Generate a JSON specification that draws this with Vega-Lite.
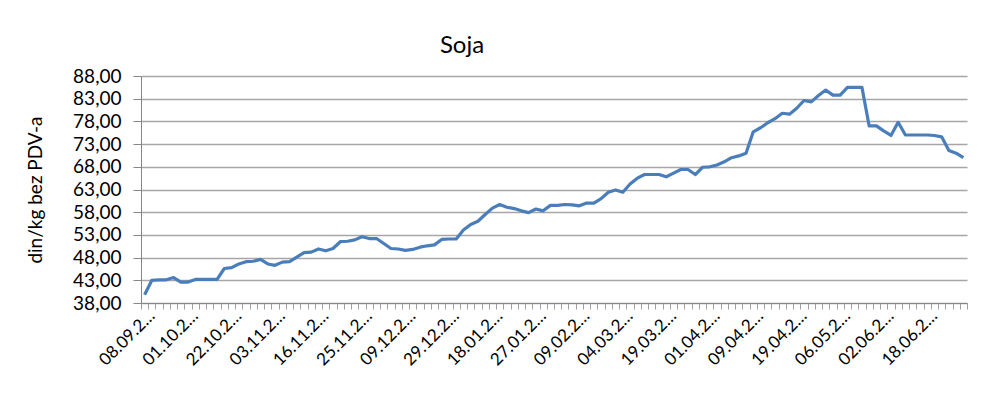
{
  "$schema": "https://vega.github.io/schema/vega-lite/v6.json",
  "autosize": {"type": "none"},
  "padding": {"left": 141, "top": 76, "right": 33, "bottom": 96},
  "width": 826,
  "height": 227,
  "background": "white",
  "title": {"text": "Soja", "font": "Lato", "fontSize": 24, "fontWeight": "normal", "color": "#000000", "anchor": "middle", "dx": -92, "offset": 9},
  "data": {"values": [
    {"date": "08.09.2020", "price": 39.8},
    {"date": "11.09.2020", "price": 43.0},
    {"date": "15.09.2020", "price": 43.1},
    {"date": "18.09.2020", "price": 43.1},
    {"date": "22.09.2020", "price": 43.6},
    {"date": "25.09.2020", "price": 42.6},
    {"date": "01.10.2020", "price": 42.6},
    {"date": "05.10.2020", "price": 43.2},
    {"date": "08.10.2020", "price": 43.2},
    {"date": "12.10.2020", "price": 43.2},
    {"date": "15.10.2020", "price": 43.2},
    {"date": "19.10.2020", "price": 45.6},
    {"date": "22.10.2020", "price": 45.8},
    {"date": "23.10.2020", "price": 46.6},
    {"date": "26.10.2020", "price": 47.1},
    {"date": "27.10.2020", "price": 47.2},
    {"date": "29.10.2020", "price": 47.6},
    {"date": "30.10.2020", "price": 46.6},
    {"date": "03.11.2020", "price": 46.3},
    {"date": "05.11.2020", "price": 47.0},
    {"date": "06.11.2020", "price": 47.1},
    {"date": "09.11.2020", "price": 48.1},
    {"date": "10.11.2020", "price": 49.1},
    {"date": "12.11.2020", "price": 49.2},
    {"date": "16.11.2020", "price": 49.9},
    {"date": "17.11.2020", "price": 49.5},
    {"date": "18.11.2020", "price": 50.0},
    {"date": "19.11.2020", "price": 51.5},
    {"date": "20.11.2020", "price": 51.6},
    {"date": "24.11.2020", "price": 51.9},
    {"date": "25.11.2020", "price": 52.6},
    {"date": "27.11.2020", "price": 52.2},
    {"date": "30.11.2020", "price": 52.2},
    {"date": "02.12.2020", "price": 51.1},
    {"date": "03.12.2020", "price": 50.0},
    {"date": "07.12.2020", "price": 49.9},
    {"date": "09.12.2020", "price": 49.6},
    {"date": "11.12.2020", "price": 49.8},
    {"date": "14.12.2020", "price": 50.3},
    {"date": "17.12.2020", "price": 50.6},
    {"date": "21.12.2020", "price": 50.8},
    {"date": "24.12.2020", "price": 52.0},
    {"date": "29.12.2020", "price": 52.1},
    {"date": "31.12.2020", "price": 52.1},
    {"date": "05.01.2021", "price": 54.1},
    {"date": "08.01.2021", "price": 55.3},
    {"date": "12.01.2021", "price": 56.0},
    {"date": "15.01.2021", "price": 57.5},
    {"date": "18.01.2021", "price": 58.9},
    {"date": "19.01.2021", "price": 59.7},
    {"date": "20.01.2021", "price": 59.1},
    {"date": "21.01.2021", "price": 58.8},
    {"date": "22.01.2021", "price": 58.3},
    {"date": "25.01.2021", "price": 57.9},
    {"date": "27.01.2021", "price": 58.7},
    {"date": "29.01.2021", "price": 58.3},
    {"date": "01.02.2021", "price": 59.5},
    {"date": "03.02.2021", "price": 59.5},
    {"date": "04.02.2021", "price": 59.7},
    {"date": "05.02.2021", "price": 59.6},
    {"date": "09.02.2021", "price": 59.4},
    {"date": "12.02.2021", "price": 60.0},
    {"date": "17.02.2021", "price": 60.0},
    {"date": "19.02.2021", "price": 61.0},
    {"date": "23.02.2021", "price": 62.4},
    {"date": "26.02.2021", "price": 62.9},
    {"date": "04.03.2021", "price": 62.4},
    {"date": "05.03.2021", "price": 64.2},
    {"date": "08.03.2021", "price": 65.5},
    {"date": "10.03.2021", "price": 66.3},
    {"date": "12.03.2021", "price": 66.3},
    {"date": "16.03.2021", "price": 66.3},
    {"date": "19.03.2021", "price": 65.8},
    {"date": "22.03.2021", "price": 66.6},
    {"date": "23.03.2021", "price": 67.4},
    {"date": "25.03.2021", "price": 67.4},
    {"date": "26.03.2021", "price": 66.3},
    {"date": "30.03.2021", "price": 67.9},
    {"date": "01.04.2021", "price": 68.0},
    {"date": "02.04.2021", "price": 68.4},
    {"date": "05.04.2021", "price": 69.1},
    {"date": "06.04.2021", "price": 70.0},
    {"date": "07.04.2021", "price": 70.4},
    {"date": "08.04.2021", "price": 71.0},
    {"date": "09.04.2021", "price": 75.7},
    {"date": "12.04.2021", "price": 76.6},
    {"date": "13.04.2021", "price": 77.7},
    {"date": "14.04.2021", "price": 78.6},
    {"date": "15.04.2021", "price": 79.8},
    {"date": "16.04.2021", "price": 79.6},
    {"date": "19.04.2021", "price": 80.9},
    {"date": "21.04.2021", "price": 82.6},
    {"date": "23.04.2021", "price": 82.3},
    {"date": "26.04.2021", "price": 83.7},
    {"date": "28.04.2021", "price": 84.9},
    {"date": "30.04.2021", "price": 83.8},
    {"date": "06.05.2021", "price": 83.8},
    {"date": "10.05.2021", "price": 85.5},
    {"date": "13.05.2021", "price": 85.5},
    {"date": "17.05.2021", "price": 85.5},
    {"date": "20.05.2021", "price": 77.0},
    {"date": "26.05.2021", "price": 77.0},
    {"date": "02.06.2021", "price": 75.9},
    {"date": "04.06.2021", "price": 74.9},
    {"date": "07.06.2021", "price": 77.8},
    {"date": "09.06.2021", "price": 75.0},
    {"date": "11.06.2021", "price": 75.0},
    {"date": "15.06.2021", "price": 75.0},
    {"date": "18.06.2021", "price": 75.0},
    {"date": "21.06.2021", "price": 74.9},
    {"date": "22.06.2021", "price": 74.6},
    {"date": "24.06.2021", "price": 71.6},
    {"date": "25.06.2021", "price": 71.0},
    {"date": "29.06.2021", "price": 70.0}
  ]},
  "mark": {"type": "line", "color": "#4a7ebb", "strokeWidth": 3.2, "strokeJoin": "round"},
  "encoding": {
    "x": {
      "field": "date",
      "type": "ordinal",
      "sort": null,
      "scale": {"type": "band", "paddingInner": 0, "paddingOuter": 0},
      "axis": {
        "title": null,
        "labelAngle": -45,
        "labelAlign": "right",
        "labelBaseline": "middle",
        "tickBand": "extent",
        "tickSize": 6,
        "tickColor": "#a0a0a0",
        "domainColor": "#868686",
        "labelOverlap": false,
        "labelFont": "Lato",
        "labelFontSize": 17,
        "labelColor": "#000000",
        "labelPadding": 4,
        "labelOffset": 7,
        "grid": false,
        "labelExpr": "indexof(['08.09.2020','01.10.2020','22.10.2020','03.11.2020','16.11.2020','25.11.2020','09.12.2020','29.12.2020','18.01.2021','27.01.2021','09.02.2021','04.03.2021','19.03.2021','01.04.2021','09.04.2021','19.04.2021','06.05.2021','02.06.2021','18.06.2021'], datum.value) >= 0 ? slice(datum.value, 0, 7) + '…' : ''"
      }
    },
    "y": {
      "field": "price",
      "type": "quantitative",
      "scale": {"domain": [38, 88], "nice": false, "zero": false},
      "axis": {
        "title": "din/kg bez PDV-a",
        "titleFont": "Lato",
        "titleFontSize": 19,
        "titleFontWeight": "normal",
        "titleColor": "#000000",
        "titlePadding": 27,
        "values": [38, 43, 48, 53, 58, 63, 68, 73, 78, 83, 88],
        "labelExpr": "replace(format(datum.value, '.2f'), '.', ',')",
        "labelFont": "Lato",
        "labelFontSize": 19,
        "labelColor": "#000000",
        "ticks": true,
        "tickSize": 8,
        "labelPadding": 12,
        "tickColor": "#868686",
        "domainColor": "#868686",
        "gridColor": "#a6a6a6",
        "gridWidth": 1.3
      }
    }
  },
  "config": {"view": {"stroke": null}}
}
